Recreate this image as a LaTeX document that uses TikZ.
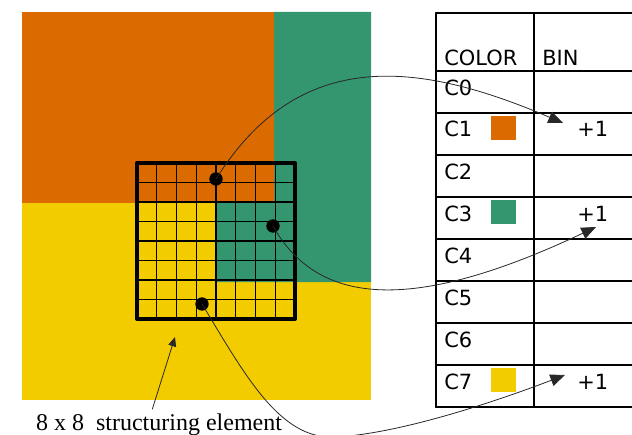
\documentclass[tikz,border=0pt]{standalone}
\usepackage{fontspec}
\setmainfont{Liberation Serif}
\newfontfamily\tablefont{DejaVu Sans}
\usetikzlibrary{arrows.meta}
\definecolor{regorange}{RGB}{219,106,0}
\definecolor{reggreen}{RGB}{52,150,110}
\definecolor{regyellow}{RGB}{243,204,0}
\definecolor{linkgray}{RGB}{40,40,40}

\begin{document}
\begin{tikzpicture}[x=0.75pt, y=-0.75pt, line cap=round, line join=round,
  >={Triangle[length=11pt,width=9pt]},
  dot/.style={circle, fill=black, inner sep=0pt, minimum size=10pt},
  cell/.style={anchor=base west, inner sep=0pt, font=\tablefont\fontsize{15.7}{18}\selectfont},
  swatch/.style={inner sep=0pt, minimum width=18.75pt, minimum height=18pt},
  link/.style={linkgray, line width=0.6pt}]

\useasboundingbox (0,0) rectangle (632,435);

% ---------- image regions ----------
\fill[regyellow] (22,12) rectangle (371,400);
\fill[regorange] (22,12) rectangle (274,203);
\fill[reggreen] (274,12) -- (371,12) -- (371,282) -- (215,282)
  -- (215,203) -- (274,203) -- cycle;

% ---------- 8 x 8 window ----------
\foreach \i in {1,...,7} {
  \draw[line width=1.1pt] ({137+19.75*\i},163) -- ({137+19.75*\i},319);
  \draw[line width=1.1pt] (137,{163+19.5*\i}) -- (295,{163+19.5*\i});
}
\draw[line width=3pt, line cap=butt] (137,163) rectangle (295,319);

\node[dot] (d1) at (216,179) {};
\node[dot] (d3) at (273,226) {};
\node[dot] (d7) at (202,304) {};

\node[anchor=base, inner sep=3pt, font=\fontsize{18}{21}\selectfont]
  (selabel) at (159,430) {8 x 8\ \ structuring element};
\coordinate (setip) at (175,337);
\draw[link, -{Triangle[length=7pt,width=6pt]}] ([xshift=-5pt]selabel.north) -- (setip);

% ---------- histogram table ----------
\draw[line width=1.6pt] (436,13) -- (436,407);
\draw[line width=0.9pt] (534,13) -- (534,407);
\draw[line width=0.9pt] (436,13) -- (632,13);
\foreach \y in {71,113,...,323}
  \draw[line width=0.9pt] (436,\y) -- (632,\y);
\draw[line width=1.4pt] (436,365) -- (632,365);
\draw[line width=1.4pt] (436,407) -- (632,407);

\node[cell] (color) at (444,65) {COLOR};
\node[cell] (bin) at (542,65) {BIN};
\foreach \k in {0,...,7}
  \node[cell] (c\k) at (444,{71+42*\k+24}) {C\k};

\node[swatch, fill=regorange] (s1) at (503.5,128) {};
\node[swatch, fill=reggreen] (s3) at (503.5,212) {};
\node[swatch, fill=regyellow] (s7) at (503.5,380) {};

\node[cell] (b1) at (577,137) {+1};
\node[cell] (b3) at (577,221) {+1};
\node[cell] (b7) at (577,389) {+1};

% ---------- votes ----------
\coordinate (t1) at (563,123);
\coordinate (t3) at (596,227);
\coordinate (t7) at (565,375);
\draw[link,->] (d1.center) .. controls (300,45) and (420,62) .. (t1);
\draw[link,->] (d3.center) .. controls (320,310) and (420,310) .. (t3);
\draw[link,->] (d7.center) .. controls (245,375) and (280,440) .. (335,437)
  .. controls (400,434) and (500,400) .. (t7);

\end{tikzpicture}
\end{document}
